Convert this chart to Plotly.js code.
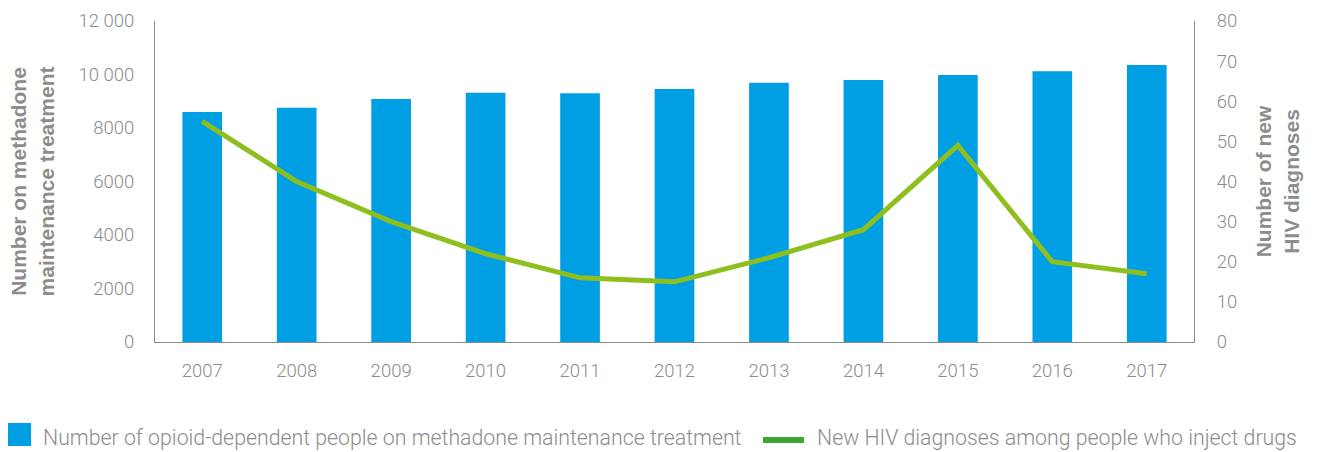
<!DOCTYPE html>
<html>
<head>
<meta charset="utf-8">
<script src="https://cdn.plot.ly/plotly-3.0.1.min.js"></script>
<style>
html,body{margin:0;padding:0;background:#fff;}
#chart{width:1317px;height:452px;}
</style>
</head>
<body>
<div id="chart"></div>
<script>
const years = ['2007','2008','2009','2010','2011','2012','2013','2014','2015','2016','2017'];
const methadoneCounts = [8600, 8760, 9080, 9320, 9300, 9460, 9690, 9790, 9980, 10120, 10355];
const hivDiagnoses = [55, 40, 30, 22, 16, 15, 21, 28, 49, 20, 17];
const leftTicks = [0, 2000, 4000, 6000, 8000, 10000, 12000];
const leftTickLabels = ['0', '2000', '4000', '6000', '8000', '10 000', '12 000'];
const rightTicks = [0, 10, 20, 30, 40, 50, 60, 70, 80];

const seriesNames = [
  'Number of opioid-dependent people on methadone maintenance treatment',
  'New HIV diagnoses among people who inject drugs'
];

const grey = '#8c8c8c';
const barColor = '#009fe3';
const lineColor = '#8fbf1f';
const legendLineColor = '#3fa535';
const tickFont = {family: 'Roboto, sans-serif', size: 18.5, color: grey, weight: 300};
const titleFont = {family: 'Liberation Sans, Arial, sans-serif', size: 21, color: grey, weight: 700};

// plot area geometry (pixels) used to place the hand-made legend
const L = 155, R = 123, T = 21, B = 110, W = 1317, H = 452;
const pw = W - L - R, ph = H - T - B;
const px = v => (v - L) / pw;
const py = v => (H - B - v) / ph;

const traces = [
  {
    type: 'bar',
    x: years,
    y: methadoneCounts,
    name: seriesNames[0],
    marker: {color: barColor},
    width: 0.42,
    yaxis: 'y',
    hoverinfo: 'x+y'
  },
  {
    type: 'scatter',
    mode: 'lines',
    x: years,
    y: hivDiagnoses,
    name: seriesNames[1],
    line: {color: lineColor, width: 5},
    yaxis: 'y2',
    hoverinfo: 'x+y'
  }
];

const legendFont = {family: 'Roboto, sans-serif', size: 21.3, color: grey, weight: 300};

const layout = {
  width: W,
  height: H,
  margin: {l: L, r: R, t: T, b: B},
  paper_bgcolor: '#ffffff',
  plot_bgcolor: '#ffffff',
  showlegend: false,
  xaxis: {
    type: 'category',
    range: [-0.5, 10.5],
    showgrid: false,
    zeroline: false,
    showline: true,
    linecolor: '#8a8a8a',
    linewidth: 1,
    ticks: '',
    tickfont: tickFont,
    ticklabelstandoff: 12
  },
  yaxis: {
    range: [0, 12000],
    tickvals: leftTicks,
    ticktext: leftTickLabels,
    showgrid: false,
    zeroline: false,
    showline: true,
    linecolor: '#8a8a8a',
    linewidth: 1,
    ticks: '',
    tickfont: tickFont,
    ticklabelstandoff: 16,
    title: {
      text: 'Number on methadone<br>maintenance treatment',
      font: titleFont,
      standoff: 18
    }
  },
  yaxis2: {
    range: [0, 80],
    tickvals: rightTicks,
    overlaying: 'y',
    side: 'right',
    showgrid: false,
    zeroline: false,
    showline: true,
    linecolor: '#8a8a8a',
    linewidth: 1,
    ticks: '',
    tickfont: tickFont,
    ticklabelstandoff: 18,
    title: {
      text: 'Number of new<br>HIV diagnoses',
      font: titleFont,
      standoff: 20
    }
  },
  shapes: [
    {type: 'rect', xref: 'paper', yref: 'paper',
     x0: px(8), x1: px(31), y0: py(446), y1: py(423),
     fillcolor: barColor, line: {width: 0}},
    {type: 'line', xref: 'paper', yref: 'paper',
     x0: px(763), x1: px(804), y0: py(440), y1: py(440),
     line: {color: legendLineColor, width: 6}}
  ],
  annotations: [
    {xref: 'paper', yref: 'paper', x: px(41), y: py(437), xanchor: 'left', yanchor: 'middle',
     text: seriesNames[0], showarrow: false, font: legendFont},
    {xref: 'paper', yref: 'paper', x: px(815), y: py(437), xanchor: 'left', yanchor: 'middle',
     text: seriesNames[1], showarrow: false, font: legendFont}
  ]
};

Plotly.newPlot('chart', traces, layout, {displayModeBar: false, responsive: false});
</script>
</body>
</html>
